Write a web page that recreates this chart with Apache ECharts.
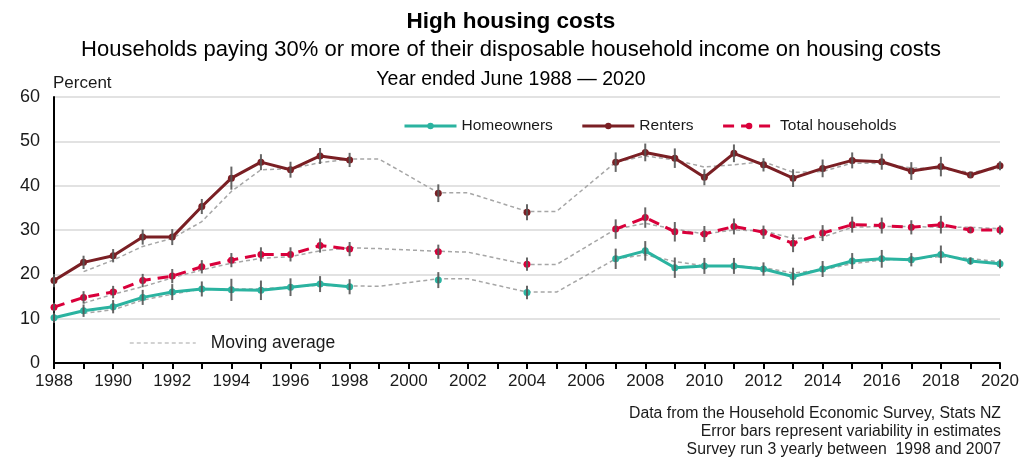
<!DOCTYPE html>
<html>
<head>
<meta charset="utf-8">
<script src="https://cdn.jsdelivr.net/npm/echarts@6/dist/echarts.min.js"></script>
<style>
  html, body { margin: 0; padding: 0; background: #ffffff; }
  #chart { width: 1022px; height: 462px; }
</style>
</head>
<body>
<div id="chart"></div>
<script>
// Survey years, 1988–2020 (year ended June)
const years = [];
for (let y = 1988; y <= 2020; y++) years.push(String(y));

// Share of households paying 30%+ of disposable income on housing (percent).
// Survey ran 3-yearly between 1998 and 2007, so those gaps are null.
const homeowners = [10.2, 11.8, 12.7, 14.8, 16.0, 16.7, 16.5, 16.4, 17.1, 17.8, 17.2,
  null, null, 18.7, null, null, 15.9, null, null,
  23.5, 25.3, 21.5, 21.9, 21.9, 21.2, 19.5, 21.2, 23.0, 23.5, 23.3, 24.5, 23.0, 22.4];
const renters = [18.6, 22.7, 24.2, 28.4, 28.4, 35.3, 41.7, 45.3, 43.6, 46.7, 45.8,
  null, null, 38.3, null, null, 34.0, null, null,
  45.3, 47.5, 46.2, 41.9, 47.3, 44.7, 41.7, 43.9, 45.7, 45.4, 43.3, 44.3, 42.4, 44.5];
const totalHouseholds = [12.6, 14.8, 16.0, 18.6, 19.6, 21.7, 23.2, 24.5, 24.5, 26.5, 25.7,
  null, null, 25.1, null, null, 22.3, null, null,
  30.2, 32.8, 29.6, 29.1, 30.8, 29.5, 27.0, 29.3, 31.2, 31.0, 30.6, 31.2, 30.0, 30.0];

// Half-widths of the error bars (percentage points)
const homeownersErr = [1.2, 1.4, 1.5, 1.7, 1.8, 1.7, 2.5, 2.2, 2.0, 1.8, 1.7,
  null, null, 1.8, null, null, 1.5, null, null,
  2.3, 2.2, 2.3, 1.8, 1.8, 1.5, 2.0, 1.8, 1.8, 2.0, 1.5, 2.0, 0.8, 1.0];
const rentersErr = [1.5, 1.5, 1.5, 1.7, 1.8, 1.7, 2.6, 1.8, 1.8, 1.8, 1.6,
  null, null, 2.0, null, null, 1.8, null, null,
  2.2, 2.0, 2.2, 1.8, 2.0, 1.5, 2.0, 2.0, 1.8, 1.8, 2.0, 2.2, 0.6, 1.0];
const totalErr = [1.0, 1.4, 1.4, 1.5, 1.6, 1.5, 1.6, 1.6, 1.6, 1.6, 1.6,
  null, null, 1.6, null, null, 1.5, null, null,
  2.2, 2.3, 2.2, 1.8, 1.8, 1.5, 2.0, 1.8, 1.8, 1.8, 1.6, 2.0, 0.6, 1.0];

// Moving averages (drawn across the 3-yearly gap)
const homeownersMA = [null, 11.2, 12.0, 14.2, 15.5, 16.7, 16.7, 16.7, 17.2, 17.5, 17.4,
  17.3, null, 19.0, 19.0, null, 16.0, 16.0, null,
  23.5, 24.4, 22.9, 21.9, 21.9, 21.5, 20.3, 21.0, 22.4, 23.2, 23.6, 24.0, 23.6, 22.8];
const rentersMA = [null, 20.6, 23.2, 26.3, 28.1, 31.9, 38.7, 43.6, 43.8, 45.2, 46.0,
  46.0, null, 38.4, 38.4, null, 34.2, 34.2, null,
  45.3, 46.7, 45.8, 44.2, 44.7, 45.4, 43.0, 43.2, 45.1, 45.0, 44.0, 43.8, 43.0, 43.9];
const totalMA = [null, 13.5, 15.5, 17.2, 19.2, 21.0, 22.5, 23.6, 24.0, 25.3, 26.0,
  25.8, null, 25.2, 25.0, null, 22.2, 22.2, null,
  30.2, 31.5, 30.2, 29.1, 30.0, 29.8, 28.1, 28.4, 30.6, 30.8, 30.8, 30.6, 30.6, 30.3];

const yTicks = { min: 0, max: 60, step: 10 };

const C_HOME = '#2bb3a0';
const C_RENT = '#7a1f24';
const C_TOTAL = '#d9003b';
const C_MA = '#a6a6a6';
const C_ERR = 'rgba(85,85,85,0.9)';
const FONT = '"Liberation Sans", Arial, sans-serif';

function errorData(vals, errs) {
  const out = [];
  vals.forEach((v, i) => {
    if (v != null && errs[i] != null) out.push([i, v - errs[i], v + errs[i]]);
  });
  return out;
}

function errorSeries(vals, errs) {
  return {
    type: 'custom',
    silent: true,
    z: 4,
    encode: { x: 0, y: [1, 2] },
    data: errorData(vals, errs),
    renderItem(params, api) {
      const i = api.value(0);
      const lo = api.coord([i, api.value(1)]);
      const hi = api.coord([i, api.value(2)]);
      return {
        type: 'line',
        shape: { x1: lo[0], y1: lo[1], x2: hi[0], y2: hi[1] },
        style: { stroke: C_ERR, lineWidth: 2 }
      };
    }
  };
}

function maSeries(vals) {
  return {
    name: 'Moving average',
    type: 'line',
    data: vals,
    connectNulls: true,
    showSymbol: false,
    symbol: 'none',
    silent: true,
    z: 1,
    color: C_MA,
    lineStyle: { color: C_MA, width: 1.5, type: [4, 3] }
  };
}

function dataSeries(name, vals, color, dashed) {
  return {
    name,
    type: 'line',
    data: vals,
    connectNulls: false,
    symbol: 'circle',
    symbolSize: 7,
    showAllSymbol: true,
    z: 3,
    color,
    itemStyle: { color },
    lineStyle: { color, width: 3, type: dashed ? [11, 7] : 'solid' }
  };
}

const chart = echarts.init(document.getElementById('chart'), null, { renderer: 'canvas' });

chart.setOption({
  animation: false,
  backgroundColor: '#ffffff',
  textStyle: { fontFamily: FONT },
  title: [
    { text: 'High housing costs', left: 'center', top: 5,
      textStyle: { fontFamily: FONT, fontSize: 22.5, fontWeight: 'bold', color: '#000' } },
    { text: 'Households paying 30% or more of their disposable household income on housing costs',
      left: 'center', top: 34,
      textStyle: { fontFamily: FONT, fontSize: 22, fontWeight: 'normal', color: '#000' } },
    { text: 'Year ended June 1988 \u2014 2020', left: 'center', top: 65,
      textStyle: { fontFamily: FONT, fontSize: 19.5, fontWeight: 'normal', color: '#000' } }
  ],
  legend: [
    {
      data: ['Homeowners', 'Renters', 'Total households'],
      left: 398, top: 113,
      itemWidth: 52, itemHeight: 8, itemGap: 28,
      selectedMode: false,
      lineStyle: { width: 3 },
      textStyle: { fontFamily: FONT, fontSize: 15.5, color: '#1a1a1a' }
    },
    {
      data: ['Moving average'],
      left: 124, top: 329,
      itemWidth: 66, itemHeight: 8,
      selectedMode: false,
      itemStyle: { opacity: 0 },
      lineStyle: { color: '#c4c4c4', width: 1.5, type: [4, 3] },
      textStyle: { fontFamily: FONT, fontSize: 17.5, color: '#1a1a1a', padding: [0, 0, 0, 10] }
    }
  ],
  grid: { left: 54, right: 22, top: 97, bottom: 99, containLabel: false },
  xAxis: {
    type: 'category',
    data: years,
    boundaryGap: false,
    axisLine: { show: true, lineStyle: { color: '#000', width: 2 } },
    axisTick: { show: true, interval: 0, length: 6, lineStyle: { color: '#000', width: 2 } },
    axisLabel: { interval: 1, fontFamily: FONT, fontSize: 17, color: '#1a1a1a', margin: 10 },
    splitLine: { show: false }
  },
  yAxis: {
    type: 'value',
    min: yTicks.min, max: yTicks.max, interval: yTicks.step,
    axisLine: { show: true, lineStyle: { color: '#000', width: 2 } },
    axisTick: { show: false },
    axisLabel: { fontFamily: FONT, fontSize: 18, color: '#1a1a1a', margin: 14 },
    splitLine: { show: true, lineStyle: { color: '#d9d9d9', width: 1.5 } }
  },
  graphic: [
    { type: 'text', x: 53, y: 75,
      style: { text: 'Percent', fontFamily: FONT, fontSize: 17, fill: '#1a1a1a' } },
    { type: 'text', x: 1001, y: 405,
      style: {
        text: 'Data from the Household Economic Survey, Stats NZ\nError bars represent variability in estimates\nSurvey run 3 yearly between  1998 and 2007',
        fontFamily: FONT, fontSize: 15.8, lineHeight: 18, fill: '#1a1a1a', align: 'right'
      } }
  ],
  series: [
    maSeries(homeownersMA),
    maSeries(rentersMA),
    maSeries(totalMA),
    dataSeries('Homeowners', homeowners, C_HOME, false),
    dataSeries('Renters', renters, C_RENT, false),
    dataSeries('Total households', totalHouseholds, C_TOTAL, true),
    errorSeries(homeowners, homeownersErr),
    errorSeries(renters, rentersErr),
    errorSeries(totalHouseholds, totalErr)
  ]
});
</script>
</body>
</html>
